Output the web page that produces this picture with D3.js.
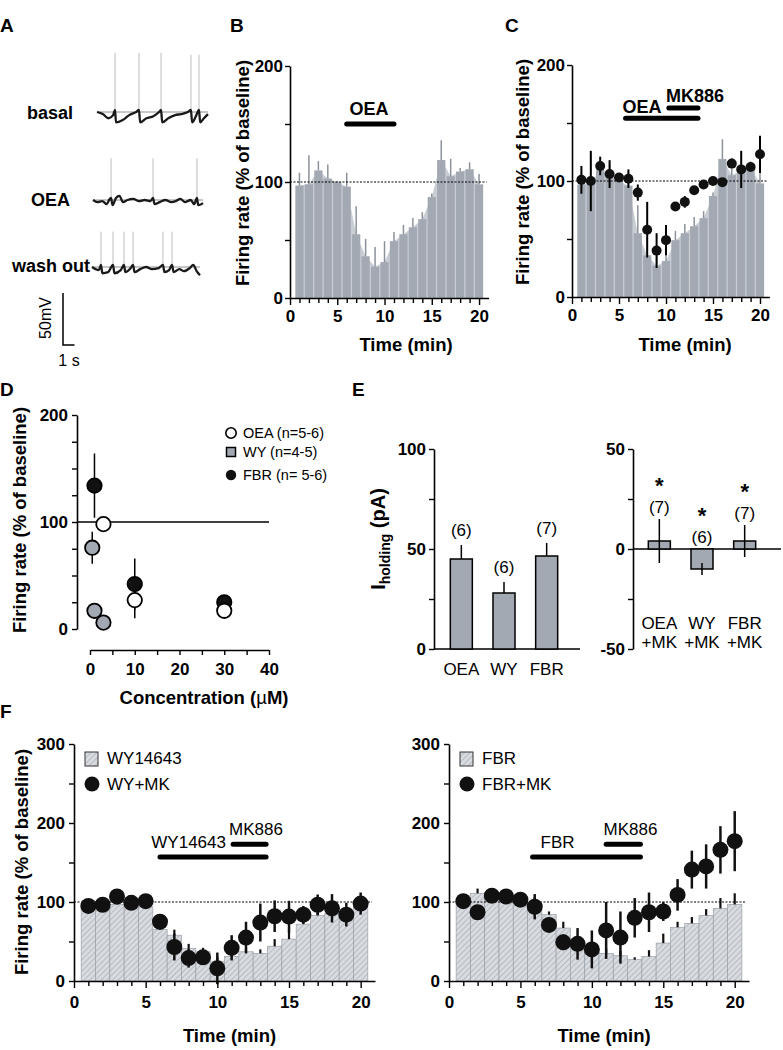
<!DOCTYPE html>
<html><head><meta charset="utf-8">
<script src="https://cdn.jsdelivr.net/npm/d3@7"></script>
<style>
body{margin:0;background:#fff}
svg{display:block}
</style></head><body>
<svg id="fig" width="783" height="1050"></svg>
<script>
// ================= DATA =================
const minutes = [1,2,3,4,5,6,7,8,9,10,11,12,13,14,15,16,17,18,19,20];
const minuteTicks = [0,1,2,3,4,5,6,7,8,9,10,11,12,13,14,15,16,17,18,19,20];
const timeTickLabels = [0,5,10,15,20];

// Panel A traces (time s, mV relative to rest)
const basalSpikes = [1.57, 3.65, 5.57, 8.17, 8.87];
const basalSpikePeak = [57, 57, 57, 55, 55];
const basalWave = [[0,0],[0.5,-2],[1.0,-6],[1.4,-3],[1.57,2],[1.65,-10],[2.2,-8],[2.8,-3],[3.4,0],[3.65,2],[3.75,-10],[4.3,-6],[4.9,-4],[5.4,0],[5.57,2],[5.67,-10],[6.2,-6],[6.8,-3],[7.3,-2],[7.9,0],[8.17,2],[8.27,-10],[8.6,-4],[8.87,2],[8.97,-10],[9.3,-6],[9.65,-2]];
const oeaSpikes = [1.57, 5.22, 9.04];
const oeaSpikePeak = [40, 40, 40];
const oeaWave = [[0,0],[0.4,-2],[0.8,-1],[1.2,-4],[1.4,0],[1.57,2],[1.7,-5],[2.0,2],[2.3,4],[2.6,-2],[3.0,0],[3.5,1],[4.0,-1],[4.5,0],[5.0,-1],[5.22,2],[5.35,-4],[5.8,-2],[6.3,0],[6.8,-2],[7.2,-1],[7.6,1],[8.0,-2],[8.5,0],[8.8,-4],[9.04,2],[9.15,-5],[9.57,-3]];
const washSpikes = [0.78, 1.83, 2.78, 3.57, 6.17, 6.96];
const washSpikePeak = [34, 34, 34, 34, 34, 34];
const washWave = [[0,0],[0.6,-3],[0.78,2],[0.9,-6],[1.4,-5],[1.83,2],[1.95,-6],[2.5,-3],[2.78,2],[2.9,-5],[3.3,-2],[3.57,2],[3.7,-5],[4.2,-2],[4.7,0],[5.2,-2],[5.8,-1],[6.17,2],[6.3,-5],[6.7,-3],[6.96,2],[7.1,-5],[7.6,-2],[8.0,-4],[8.5,-1],[8.8,2],[9.1,-4],[9.39,-8]];

// Panel B / C : OEA bars (% of baseline)
const oeaBars   = [97,98,110,103,100,96,55,36,27,31,49,55,61,68,87,119,105,109,111,98];
const oeaBarErr = [11,25,8,12,1,12,24,15,17,18,8,8,8,6,3,17,15,3,6,9];
// Panel C : OEA + MK886 dots
const oeaMkDots = [101,100,113,106,103,102,90,58,40,49,78,82,92,97,100,99,115,110,112,123];
const oeaMkErr  = [12,26,8,12,0,8,7,24,15,13,0,5,0,0,0,0,0,16,0,16];

// Panel D : concentration-response
const dOeaConc = [3,10,30],  dOeaVals = [98,27,17],  dOeaErr = [0,17,0];
const dWyConc  = [0.5,1,3],  dWyVals  = [76,17,6],   dWyErr  = [15,0,0];
const dFbrConc = [1,10,30],  dFbrVals = [134,42,25], dFbrErr = [30,24,0];
const dLegend = ["OEA (n=5-6)", "WY (n=4-5)", "FBR (n= 5-6)"];

// Panel E
const holdCats = ["OEA","WY","FBR"];
const holdVals = [45, 28, 46.5];
const holdErr  = [7, 5.5, 6.5];
const holdN    = ["(6)","(6)","(7)"];
const mkCats = ["OEA","WY","FBR"];
const mkVals = [4, -10, 4];
const mkErr  = [11, 3, 8];
const mkN    = ["(7)","(6)","(7)"];

// Panel F
const wyBars    = [91,92,97,95,94,65,58,41,37,25,31,37,35,44,53,72,83,86,86,93];
const wyBarErr  = [5,5,5,5,5,5,7,6,5,5,5,5,5,9,10,6,6,6,6,6];
const wyMkDots  = [95,96.5,107,99,101,75,43,29,30,16,42,55,74,82,81.5,84,96.5,92,84,98];
const wyMkErr   = [4,4,4,4,4,4,17,12,6,20,16,20,24,20,20,11,13,18,15,14];
const fbrBars   = [100,111,109,103,101,96,84,67,45,37,35,32,27,31,48,68,73,83,92,97];
const fbrBarErr = [4,6,4,4,4,10,4,8,6,5,6,6,3,8,12,7,8,8,13,14];
const fbrMkDots = [101,87,108,107,103,94,71,49,47,40,64,55,80,87,88,109,141,145,166,177];
const fbrMkErr  = [8,8,5,6,5,16,8,10,20,24,36,33,25,25,12,20,24,28,30,38];

// ================= DRAWING =================
const FONT = '"Liberation Sans", Arial, Helvetica, sans-serif';
const BAR = "#a3a9b2";
const svg = d3.select("#fig").attr("font-family", FONT);

const defs = svg.append("defs");
const pat = defs.append("pattern").attr("id","hatch").attr("patternUnits","userSpaceOnUse")
  .attr("width",4).attr("height",4).attr("patternTransform","rotate(45)");
pat.append("rect").attr("width",4).attr("height",4).attr("fill","#d8dbe0");
pat.append("line").attr("x1",0).attr("y1",0).attr("x2",0).attr("y2",4).attr("stroke","#858b93").attr("stroke-width",0.8);

function styleAxis(sel, fs) {
  sel.attr("font-family", FONT);
  sel.select(".domain").attr("stroke","#000").attr("stroke-width",1.6);
  sel.selectAll(".tick line").attr("stroke","#000").attr("stroke-width",1.4);
  sel.selectAll(".tick text").attr("fill","#000").attr("font-size",fs).attr("font-weight","bold");
}
function yAxis(x0, y, vals, labels, fs, pad) {
  return svg.append("g").attr("transform",`translate(${x0},0)`)
    .call(d3.axisLeft(y).tickValues(vals).tickFormat(d => labels.includes(d) ? d : "")
      .tickSize(5).tickSizeOuter(0).tickPadding(pad))
    .call(styleAxis, fs);
}
function timeXAxis(y0, x, fs, pad) {
  const g = svg.append("g").attr("transform",`translate(0,${y0})`)
    .call(d3.axisBottom(x).tickValues(minuteTicks).tickFormat(d => timeTickLabels.includes(d) ? d : "")
      .tickSize(5).tickSizeOuter(0).tickPadding(pad))
    .call(styleAxis, fs);
  g.selectAll(".tick line").attr("y2", d => timeTickLabels.includes(d) ? 7 : 5);
  return g;
}
function text(x, y, s, opts={}) {
  const t = svg.append("text").attr("x",x).attr("y",y).text(s)
    .attr("font-size", opts.fs || 17).attr("font-weight", opts.bold ? "bold" : "normal")
    .attr("text-anchor", opts.anchor || "middle").attr("fill","#000");
  return t;
}
function rotText(x, y, s, fs) {
  return svg.append("text").attr("transform",`translate(${x},${y}) rotate(-90)`)
    .attr("text-anchor","middle").attr("font-size",fs).attr("font-weight","bold").text(s);
}
function drugBar(x, y, t0, t1, v) {
  svg.append("line").attr("x1",x(t0)).attr("x2",x(t1)).attr("y1",y(v)).attr("y2",y(v))
    .attr("stroke","#000").attr("stroke-width",5).attr("stroke-linecap","round");
}
function dotted(x, y, t1) {
  svg.append("line").attr("x1",x(0)).attr("x2",x(t1)).attr("y1",y(100)).attr("y2",y(100))
    .attr("stroke","#000").attr("stroke-width",1).attr("stroke-dasharray","2,1.5");
}

// Panel letters
text(0, 32, "A", {fs:19, bold:true, anchor:"start"});
text(230, 32, "B", {fs:19, bold:true, anchor:"start"});
text(505, 32, "C", {fs:19, bold:true, anchor:"start"});
text(0, 396, "D", {fs:19, bold:true, anchor:"start"});
text(352, 396, "E", {fs:19, bold:true, anchor:"start"});
text(0, 718, "F", {fs:19, bold:true, anchor:"start"});

// ---------- Panel A ----------
const traces = [
  {name:"basal", spikes:basalSpikes, peaks:basalSpikePeak, wave:basalWave, x0:97, base:112, lx:73, ly:119},
  {name:"OEA", spikes:oeaSpikes, peaks:oeaSpikePeak, wave:oeaWave, x0:93, base:200, lx:70, ly:206},
  {name:"wash out", spikes:washSpikes, peaks:washSpikePeak, wave:washWave, x0:92, base:267, lx:90, ly:272}
];
traces.forEach(tr => {
  const xs = d3.scaleLinear().domain([0,1]).range([tr.x0, tr.x0 + 11.5]);
  const ys = d3.scaleLinear().domain([0,50]).range([tr.base, tr.base - 52]);
  const tEnd = tr.wave[tr.wave.length-1][0];
  svg.append("line").attr("x1",xs(0)).attr("x2",xs(tEnd)).attr("y1",ys(0)).attr("y2",ys(0))
    .attr("stroke","#b5b5b5").attr("stroke-width",1.5);
  tr.spikes.forEach((s,i) => {
    svg.append("line").attr("x1",xs(s)).attr("x2",xs(s)).attr("y1",ys(2)).attr("y2",ys(tr.peaks[i]))
      .attr("stroke","#bdbdbd").attr("stroke-width",1);
  });
  svg.append("path").datum(tr.wave)
    .attr("d", d3.line().x(d => xs(d[0])).y(d => ys(d[1])).curve(d3.curveMonotoneX))
    .attr("fill","none").attr("stroke","#1a1a1a").attr("stroke-width",2.3);
  text(tr.lx, tr.ly, tr.name, {fs:18, bold:true, anchor:"end"});
});
{
  const xs = d3.scaleLinear().domain([0,1]).range([63, 74.5]);
  const ys = d3.scaleLinear().domain([0,50]).range([345, 293]);
  svg.append("path").attr("d", `M${xs(0)},${ys(50)}V${ys(0)}H${xs(1)}`)
    .attr("fill","none").attr("stroke","#000").attr("stroke-width",1.5);
  svg.append("text").attr("transform",`translate(51,318) rotate(-90)`).attr("text-anchor","middle")
    .attr("font-size",16).text("50mV");
  text(69, 366, "1 s", {fs:16});
}

// ---------- Panel B / C ----------
function barPanel(x0, x1, y0, y1, withDots) {
  const x = d3.scaleLinear().domain([0,21]).range([x0, x1]);
  const y = d3.scaleLinear().domain([0,200]).range([y0, y1]);
  svg.append("path").datum(oeaBars)
    .attr("d", d3.area().x((d,i) => x(minutes[i])).y0(y(0)).y1(d => y(d)))
    .attr("fill","#c9ced5");
  const bw = x(1) - x(0);
  svg.append("g").selectAll("rect").data(oeaBars).join("rect")
    .attr("x",(d,i) => x(minutes[i]-0.5)+0.6).attr("width", bw-1.2)
    .attr("y", d => y(d)).attr("height", d => y(0)-y(d)).attr("fill", BAR);
  svg.append("g").selectAll("line").data(oeaBars).join("line")
    .attr("x1",(d,i)=>x(minutes[i])).attr("x2",(d,i)=>x(minutes[i]))
    .attr("y1", d => y(d)).attr("y2",(d,i) => y(d + oeaBarErr[i]))
    .attr("stroke","#8c929b").attr("stroke-width",1.5);
  dotted(x, y, 20.8);
  if (withDots) {
    svg.append("g").selectAll("line").data(oeaMkDots).join("line")
      .attr("x1",(d,i)=>x(minutes[i])).attr("x2",(d,i)=>x(minutes[i]))
      .attr("y1",(d,i) => y(d - oeaMkErr[i])).attr("y2",(d,i) => y(d + oeaMkErr[i]))
      .attr("stroke","#000").attr("stroke-width",2);
    svg.append("g").selectAll("circle").data(oeaMkDots).join("circle")
      .attr("cx",(d,i)=>x(minutes[i])).attr("cy", d => y(d)).attr("r",5).attr("fill","#111");
  }
  yAxis(x0, y, [0,50,100,150,200], [0,100,200], 17, 2);
  timeXAxis(y0, x, 17, 7);
  return {x, y};
}
{
  const {x, y} = barPanel(290, 488.5, 298, 66, false);
  drugBar(x, y, 6, 11, 150);
  text(369, 115, "OEA", {fs:18, bold:true});
  rotText(249, 173, "Firing rate (% of baseline)", 18.5);
  text(406, 351, "Time (min)", {fs:18.5, bold:true});
}
{
  const {x, y} = barPanel(572, 769.4, 297, 65, true);
  drugBar(x, y, 5.7, 13.4, 154);
  drugBar(x, y, 10.3, 13.4, 163);
  text(642, 113, "OEA", {fs:18, bold:true});
  text(695, 102, "MK886", {fs:18, bold:true});
  rotText(529, 172, "Firing rate (% of baseline)", 18.5);
  text(685, 351, "Time (min)", {fs:18.5, bold:true});
}

// ---------- Panel D ----------
{
  const x = d3.scaleLinear().domain([0,40]).range([90, 269]);
  const y = d3.scaleLinear().domain([0,200]).range([629, 415]);
  yAxis(77, y, [0,25,50,75,100,125,150,175,200], [0,100,200], 17, 4);
  svg.append("g").attr("transform","translate(0,650)")
    .call(d3.axisBottom(x).tickValues([0,5,10,15,20,25,30,35,40]).tickFormat(d => d%10===0 ? d : "")
      .tickSize(5).tickSizeOuter(0).tickPadding(8))
    .call(styleAxis, 17);
  svg.append("line").attr("x1",77).attr("x2",x(40)).attr("y1",y(100)).attr("y2",y(100))
    .attr("stroke","#000").attr("stroke-width",1.3);
  const series = [
    {c:dWyConc, v:dWyVals, e:dWyErr, fill:BAR},
    {c:dFbrConc, v:dFbrVals, e:dFbrErr, fill:"#111"},
    {c:dOeaConc, v:dOeaVals, e:dOeaErr, fill:"#fff"}
  ];
  series.forEach(s => {
    s.v.forEach((v,i) => {
      if (s.e[i] > 0) svg.append("line").attr("x1",x(s.c[i])).attr("x2",x(s.c[i]))
        .attr("y1",y(v - s.e[i])).attr("y2",y(v + s.e[i])).attr("stroke","#000").attr("stroke-width",1.5);
    });
  });
  series.forEach(s => {
    svg.append("g").selectAll("circle").data(s.v).join("circle")
      .attr("cx",(d,i)=>x(s.c[i])).attr("cy",d=>y(d)).attr("r",7.2)
      .attr("fill",s.fill).attr("stroke","#000").attr("stroke-width",1.8);
  });
  // legend
  const ly = [433, 452, 475];
  svg.append("circle").attr("cx",231).attr("cy",ly[0]).attr("r",5.2).attr("fill","#fff").attr("stroke","#000").attr("stroke-width",1.6);
  svg.append("rect").attr("x",226.5).attr("y",ly[1]-4.5).attr("width",9).attr("height",9).attr("fill",BAR).attr("stroke","#000").attr("stroke-width",1.5);
  svg.append("circle").attr("cx",231).attr("cy",ly[2]).attr("r",5.2).attr("fill","#111");
  dLegend.forEach((s,i) => text(243, ly[i]+5, s, {fs:14.5, anchor:"start"}));
  rotText(26, 520, "Firing rate (% of baseline)", 18.5);
  const ct = text(204, 704, "Concentration (", {fs:18.5, bold:true});
  ct.append("tspan").attr("font-weight","normal").text("\u00b5");
  ct.append("tspan").text("M)");
}

// ---------- Panel E ----------
{
  const x = d3.scalePoint().domain(holdCats).range([440,568]).padding(0.5);
  const y = d3.scaleLinear().domain([0,100]).range([649,449]);
  yAxis(434, y, [0,25,50,75,100], [0,50,100], 17, 3);
  svg.append("line").attr("x1",434).attr("x2",580).attr("y1",y(0)).attr("y2",y(0)).attr("stroke","#000").attr("stroke-width",1.6);
  holdVals.forEach((v,i) => {
    const cx = x(holdCats[i]);
    svg.append("line").attr("x1",cx).attr("x2",cx).attr("y1",y(v)).attr("y2",y(v+holdErr[i])).attr("stroke","#000").attr("stroke-width",1.5);
    svg.append("rect").attr("x",cx-11).attr("width",22).attr("y",y(v)).attr("height",y(0)-y(v))
      .attr("fill",BAR).attr("stroke","#000").attr("stroke-width",1.5);
    text(cx, y(v+holdErr[i]) - 9, holdN[i], {fs:17});
    text(cx, 675, holdCats[i], {fs:17});
  });
  const t = svg.append("text").attr("transform","translate(385,539) rotate(-90)").attr("text-anchor","middle")
    .attr("font-size",20).attr("font-weight","bold").text("I");
  t.append("tspan").attr("font-size",14).attr("dy",5).text("holding");
  t.append("tspan").attr("dy",-5).text(" (pA)");
}
{
  const x = d3.scalePoint().domain(mkCats).range([638,766]).padding(0.5);
  const y = d3.scaleLinear().domain([-50,50]).range([649,449]);
  yAxis(633, y, [-50,-25,0,25,50], [-50,0,50], 17, 3);
  svg.append("line").attr("x1",633).attr("x2",781).attr("y1",y(0)).attr("y2",y(0)).attr("stroke","#000").attr("stroke-width",1.6);
  mkVals.forEach((v,i) => {
    const cx = x(mkCats[i]);
    svg.append("rect").attr("x",cx-11).attr("width",22).attr("y",y(Math.max(v,0))).attr("height",Math.abs(y(0)-y(v)))
      .attr("fill",BAR).attr("stroke","#000").attr("stroke-width",1.5);
    svg.append("line").attr("x1",cx).attr("x2",cx).attr("y1",y(v-mkErr[i])).attr("y2",y(v+mkErr[i])).attr("stroke","#000").attr("stroke-width",1.5);
    const ty = y(Math.max(v + mkErr[i], 0)) - 6;
    text(cx, ty, mkN[i], {fs:17});
    text(cx, ty - 20, "*", {fs:22, bold:true});
    text(cx, 629, mkCats[i], {fs:17});
    text(cx, 648, "+MK", {fs:17});
  });
}

// ---------- Panel F ----------
function fPanel(x0, x1, bars, barErr, dots, dotErr, drug, drugRange, mkRange, drugLabelT, lbl) {
  const x = d3.scaleLinear().domain([0,21]).range([x0, x1]);
  const y = d3.scaleLinear().domain([0,300]).range([981, 744]);
  const bw = x(1) - x(0);
  svg.append("g").selectAll("rect").data(bars).join("rect")
    .attr("x",(d,i)=>x(minutes[i]-0.5)).attr("width",bw)
    .attr("y",d=>y(d)).attr("height",d=>y(0)-y(d))
    .attr("fill","url(#hatch)").attr("stroke","#9aa0a8").attr("stroke-width",0.7);
  svg.append("g").selectAll("line").data(bars).join("line")
    .attr("x1",(d,i)=>x(minutes[i])).attr("x2",(d,i)=>x(minutes[i]))
    .attr("y1",d=>y(d)).attr("y2",(d,i)=>y(d+barErr[i]))
    .attr("stroke","#111").attr("stroke-width",2.2);
  dotted(x, y, 20.8);
  svg.append("g").selectAll("line").data(dots).join("line")
    .attr("x1",(d,i)=>x(minutes[i])).attr("x2",(d,i)=>x(minutes[i]))
    .attr("y1",(d,i)=>y(d-dotErr[i])).attr("y2",(d,i)=>y(d+dotErr[i]))
    .attr("stroke","#111").attr("stroke-width",2.5);
  svg.append("g").selectAll("circle").data(dots).join("circle")
    .attr("cx",(d,i)=>x(minutes[i])).attr("cy",d=>y(d)).attr("r",8).attr("fill","#111");
  yAxis(x0, y, [0,50,100,150,200,250,300], [0,100,200,300], 17, 4);
  timeXAxis(981, x, 17, 10);
  drugBar(x, y, drugRange[0], drugRange[1], 157);
  drugBar(x, y, mkRange[0], mkRange[1], 173);
  text(x(drugLabelT), 848, drug, {fs:17});
  text(x(12.7), 835, "MK886", {fs:17});
  // legend
  svg.append("rect").attr("x",x0+11).attr("y",752).attr("width",13).attr("height",14)
    .attr("fill","url(#hatch)").attr("stroke","#333").attr("stroke-width",1);
  svg.append("circle").attr("cx",x0+18).attr("cy",784).attr("r",7.5).attr("fill","#111");
  text(x0+33, 764, lbl[0], {fs:17, anchor:"start"});
  text(x0+33, 790, lbl[1], {fs:17, anchor:"start"});
  text((x0+x1)/2 + 5, 1042, "Time (min)", {fs:18.5, bold:true});
}
fPanel(74, 375, wyBars, wyBarErr, wyMkDots, wyMkErr, "WY14643", [6.0, 13.4], [11.1, 13.4], 8.0, ["WY14643","WY+MK"]);
fPanel(449, 749, fbrBars, fbrBarErr, fbrMkDots, fbrMkErr, "FBR", [5.85, 13.4], [11.0, 13.4], 7.6, ["FBR","FBR+MK"]);
rotText(28, 862, "Firing rate (% of baseline)", 18.5);
</script>
</body></html>
